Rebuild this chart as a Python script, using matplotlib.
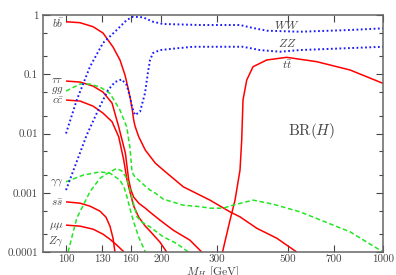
import matplotlib
matplotlib.use('agg')
import matplotlib.pyplot as plt
from matplotlib.ticker import FixedLocator, NullLocator, NullFormatter

plt.rcParams['font.family'] = 'cmr10'
plt.rcParams['mathtext.fontset'] = 'cm'
plt.rcParams['axes.formatter.use_mathtext'] = True

# Higgs mass (GeV) and branching ratios
m_bb = [100, 110.7, 121.7, 130.8, 140.7, 148.0, 153.5, 156.9, 159.2, 161.5, 163.5, 165.1,
        169.6, 177.9, 191.3, 202.8, 234.4, 284.6, 329.1, 353.9, 399.6, 462.1, 534.2]
br_bb = [0.770, 0.741, 0.634, 0.497, 0.288, 0.174, 0.0969, 0.0585, 0.0412, 0.0269, 0.0168, 0.0133,
         0.0088, 0.00524, 0.00316, 0.00241, 0.00126, 0.00075, 0.000476, 0.000392, 0.000252, 0.000171, 0.0001]

m_tautau = [100, 110.7, 121.7, 130.8, 139.7, 146.6, 153.9, 157.7, 160.3, 163.5, 169.6, 177.9,
            184.1, 198.0, 218.0, 246.1, 268.0]
br_tautau = [0.0768, 0.0738, 0.0632, 0.0500, 0.0326, 0.0130, 0.00467, 0.00163, 0.00111, 0.000843,
             0.000667, 0.000549, 0.00047, 0.000344, 0.000233, 0.000158, 0.0001]

m_cc = [100, 110.7, 121.7, 130.8, 139.7, 146.6, 152.1, 155.8, 159.2, 163.5, 169.6, 177.9, 184.1, 198.0, 207.8]
br_cc = [0.0367, 0.0353, 0.0290, 0.0221, 0.0158, 0.0088, 0.00355, 0.00163, 0.00102, 0.000594,
         0.000387, 0.000273, 0.000225, 0.000146, 0.0001]

m_ss = [100, 110.7, 119.0, 128.0, 133.7, 137.6, 140.7, 142.7]
br_ss = [0.000702, 0.000667, 0.000594, 0.000489, 0.000387, 0.000273, 0.000171, 0.0001]

m_mumu = [100, 110.7, 121.7, 130.8, 137.6, 144.8, 152.4]
br_mumu = [0.000284, 0.000273, 0.000243, 0.0002, 0.000164, 0.00013, 0.0001]

m_tt = [311.7, 329.1, 341.3, 353.9, 358.3, 361.7, 371.6, 389.0, 429.7, 496.9, 617.9, 787.1, 1000]
br_tt = [0.0001, 0.000344, 0.00075, 0.00241, 0.00773, 0.0367, 0.0798, 0.134, 0.174, 0.193, 0.163, 0.118, 0.0702]

m_gg = [100, 110.7, 119.0, 128.0, 137.6, 148.0, 155.4, 159.2, 161.5, 165.1, 169.6, 177.9, 184.1,
        191.3, 202.8, 234.4, 264.7, 284.6, 312.8, 336.3, 389.0, 449.8, 547.2, 787.1, 1000]
br_gg = [0.052, 0.0683, 0.0683, 0.0608, 0.0476, 0.0248, 0.0130, 0.00567, 0.00223, 0.00183, 0.00163,
         0.00129, 0.00111, 0.000985, 0.000779, 0.000617, 0.000582, 0.000549, 0.000549, 0.000617,
         0.00075, 0.000642, 0.000476, 0.000219, 0.0001]

m_aa = [100, 113.1, 128.0, 137.6, 148.0, 152.4, 155.8, 159.6, 163.5, 169.6, 177.9]
br_aa = [0.00153, 0.00198, 0.00225, 0.00214, 0.00163, 0.00124, 0.000843, 0.000508, 0.000319, 0.000178, 0.0001]

m_za = [101.5, 108.1, 119.0, 128.0, 137.6, 144.5, 150.2, 155.4, 159.2, 162.7, 167.5, 173.7,
        184.1, 202.8, 223.5, 243.1]
br_za = [0.0001, 0.000372, 0.00104, 0.00176, 0.00225, 0.00257, 0.00232, 0.00176, 0.00111, 0.000702,
         0.000392, 0.000319, 0.000265, 0.00018, 0.000139, 0.0001]

m_ww = [100, 108.1, 119.0, 130.8, 144.5, 155.4, 162.7, 175.0, 188.1, 202.3, 264.7, 353.9, 389.0,
        430.6, 547.2, 787.1, 1000]
br_ww = [0.01, 0.0367, 0.134, 0.337, 0.558, 0.823, 0.936, 0.914, 0.770, 0.705, 0.678, 0.678, 0.603,
         0.543, 0.522, 0.558, 0.596]

m_zz = [100, 116.2, 128.0, 135.7, 142.7, 149.9, 155.4, 159.2, 161.5, 165.1, 171.2, 177.5, 181.4,
        184.1, 188.1, 198.0, 223.5, 251.5, 361.7, 409.3, 473.3, 547.2, 1000]
br_zz = [0.00111, 0.0094, 0.029, 0.0541, 0.0738, 0.082, 0.0657, 0.0412, 0.0279, 0.0205, 0.0233,
         0.0481, 0.109, 0.174, 0.228, 0.256, 0.274, 0.291, 0.291, 0.256, 0.240, 0.256, 0.291]

xticks = [100, 130, 160, 200, 300, 500, 700, 1000]
yticks = [0.0001, 0.001, 0.01, 0.1, 1]
ytick_labels = ['0.0001', '0.001', '0.01', '0.1', '1']
yminor = [2e-4, 5e-4, 2e-3, 5e-3, 2e-2, 5e-2, 0.2, 0.5]

# left hand labels: (text, BR value)
left_labels = [(r'$b\bar{b}$', 0.74), (r'$\tau\tau$', 0.079), (r'$gg$', 0.054), (r'$c\bar{c}$', 0.036),
               (r'$\gamma\gamma$', 0.0015), (r'$s\bar{s}$', 0.00067), (r'$\mu\mu$', 0.00027),
               (r'$Z\gamma$', 0.00015)]

RED = '#ff0000'
GREEN = '#22e622'
BLUE = '#1a1aff'
GREY = '#444444'

fig = plt.figure(figsize=(3.96, 2.75), dpi=100)
ax = fig.add_axes([43/396, 23/275, 340/396, 237/275])

for m, br in [(m_bb, br_bb), (m_tautau, br_tautau), (m_cc, br_cc), (m_ss, br_ss), (m_mumu, br_mumu), (m_tt, br_tt)]:
    ax.plot(m, br, color=RED, lw=1.1, solid_capstyle='butt')
for m, br in [(m_gg, br_gg), (m_aa, br_aa), (m_za, br_za)]:
    ax.plot(m, br, color=GREEN, lw=1.1, dashes=(3.0, 1.8))
for m, br in [(m_ww, br_ww), (m_zz, br_zz)]:
    ax.plot(m, br, color=BLUE, lw=1.4, dashes=(0.9, 1.3))

ax.set_xscale('log')
ax.set_yscale('log')
ax.set_xlim(84.6, 1000)
ax.set_ylim(1e-4, 1)

ax.xaxis.set_major_locator(FixedLocator(xticks))
ax.xaxis.set_minor_locator(NullLocator())
ax.xaxis.set_minor_formatter(NullFormatter())
ax.set_xticklabels([str(t) for t in xticks])
ax.yaxis.set_major_locator(FixedLocator(yticks))
ax.set_yticklabels(ytick_labels)
ax.yaxis.set_minor_locator(FixedLocator(yminor))
ax.yaxis.set_minor_formatter(NullFormatter())

ax.tick_params(which='both', direction='in', top=True, right=True, color=GREY, labelcolor=GREY,
               labelsize=8, width=0.8)
ax.tick_params(which='major', length=5)
ax.tick_params(which='minor', length=3)
ax.tick_params(axis='x', pad=2)
for s in ax.spines.values():
    s.set_color('#666666')
    s.set_linewidth(1.1)

for txt, y in left_labels:
    ax.text(98.5, y, txt, ha='right', va='center', fontsize=8, color=GREY)

ax.text(498, 0.68, r'$WW$', ha='center', va='center', fontsize=8.5, color=GREY)
ax.text(498, 0.34, r'$ZZ$', ha='center', va='center', fontsize=8.5, color=GREY)
ax.text(498, 0.143, r'$t\bar{t}$', ha='center', va='center', fontsize=8.5, color=GREY)
ax.text(597, 0.011, r'$\mathrm{BR}(H)$', ha='center', va='center', fontsize=11, color=GREY)

ax.set_xlabel(r'$M_H$ [GeV]', fontsize=8.5, color=GREY)
ax.xaxis.set_label_coords(0.5, -0.055)

fig.savefig('out.png', dpi=100)
